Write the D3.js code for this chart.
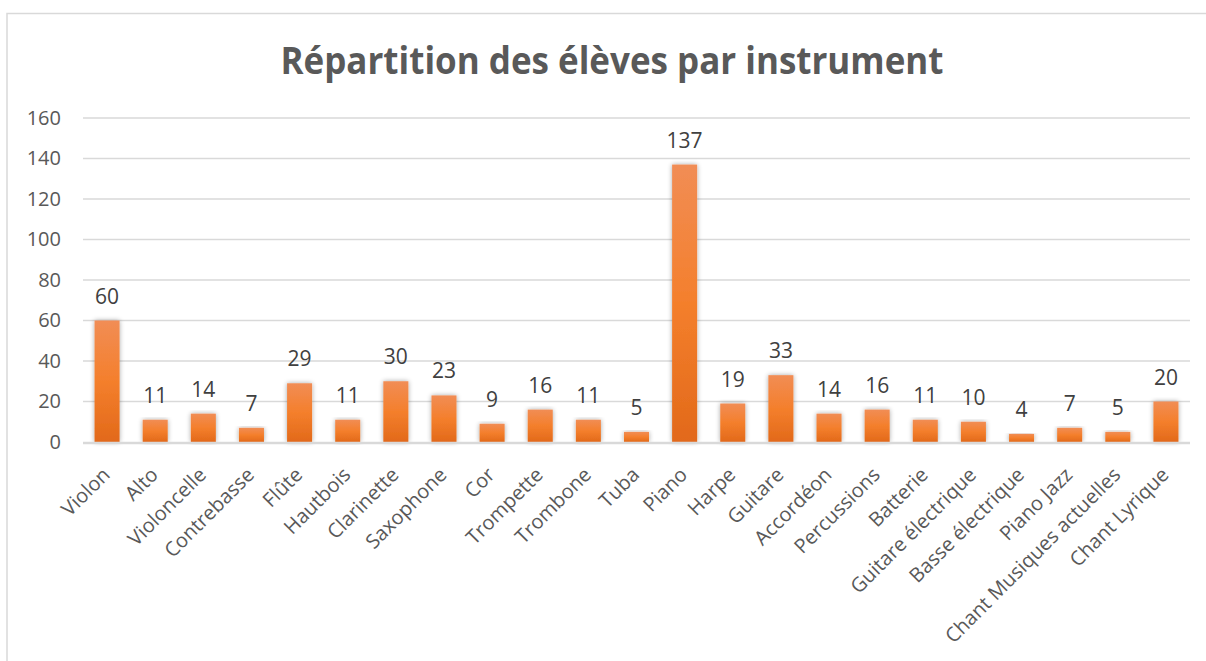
<!DOCTYPE html>
<html>
<head>
<meta charset="utf-8">
<script src="https://cdn.jsdelivr.net/npm/d3@7"></script>
<style>
 body { margin: 0; background: #fff; }
 text { font-family: "Open Sans", "Noto Sans", sans-serif; }
</style>
</head>
<body>
<script>
 // categories and values
 var instruments = ["Violon","Alto","Violoncelle","Contrebasse","Flûte","Hautbois","Clarinette","Saxophone","Cor","Trompette","Trombone","Tuba","Piano","Harpe","Guitare","Accordéon","Percussions","Batterie","Guitare électrique","Basse électrique","Piano Jazz","Chant Musiques actuelles","Chant Lyrique"];
 var eleves = [60,11,14,7,29,11,30,23,9,16,11,5,137,19,33,14,16,11,10,4,7,5,20];
 var yTicks = [0,20,40,60,80,100,120,140,160];
 var titre = "Répartition des élèves par instrument";

 var W = 1206, H = 661;
 var margin = {top: 118, right: 16, bottom: 219, left: 83};

 var svg = d3.select("body").append("svg")
	.attr("width", W)
	.attr("height", H);

 var defs = svg.append("defs");
 var grad = defs.append("linearGradient")
	.attr("id", "barGrad")
	.attr("x1", 0).attr("y1", 0).attr("x2", 0).attr("y2", 1);
 grad.append("stop").attr("offset", "0%").attr("stop-color", "#F18D55");
 grad.append("stop").attr("offset", "50%").attr("stop-color", "#F47F2C");
 grad.append("stop").attr("offset", "100%").attr("stop-color", "#E2691A");

 // soft shadow around the bars
 var shadow = defs.append("filter").attr("id", "ombre")
	.attr("x", "-40%").attr("y", "-10%").attr("width", "180%").attr("height", "120%");
 shadow.append("feGaussianBlur").attr("in", "SourceAlpha").attr("stdDeviation", 2.5).attr("result", "b");
 shadow.append("feComponentTransfer").attr("in", "b").attr("result", "b2")
	.append("feFuncA").attr("type", "linear").attr("slope", 0.35);
 var merge = shadow.append("feMerge");
 merge.append("feMergeNode").attr("in", "b2");
 merge.append("feMergeNode").attr("in", "SourceGraphic");

 // frame
 svg.append("rect")
	.attr("x", 7).attr("y", 13.5)
	.attr("width", 1220).attr("height", 700)
	.attr("fill", "none").attr("stroke", "#D9D9D9").attr("stroke-width", 1.5);

 var x = d3.scaleBand()
	.domain(instruments)
	.range([margin.left, 1190])
	.paddingInner(0.48).paddingOuter(0.24);

 var y = d3.scaleLinear()
	.domain([0, 160])
	.range([442, 118]);

 // title
 svg.append("text")
	.attr("x", 612).attr("y", 74)
	.attr("text-anchor", "middle")
	.attr("font-size", 37)
	.attr("font-weight", "bold")
	.attr("fill", "#595959")
	.attr("textLength", 663)
	.attr("lengthAdjust", "spacingAndGlyphs")
	.text(titre);

 // gridlines
 svg.append("g")
	.selectAll("line")
	.data(yTicks.filter(function(d){ return d > 0; }))
	.join("line")
	.attr("x1", margin.left).attr("x2", 1190)
	.attr("y1", function(d){ return y(d); })
	.attr("y2", function(d){ return y(d); })
	.attr("stroke", "#D9D9D9").attr("stroke-width", 1.3);

 // y axis labels
 var yAxis = d3.axisLeft(y).tickValues(yTicks).tickSize(0).tickPadding(22);
 var gy = svg.append("g")
	.attr("transform", "translate(" + margin.left + ",0)")
	.call(yAxis);
 gy.select(".domain").remove();
 gy.selectAll("text")
	.attr("font-size", 20)
	.attr("fill", "#595959")
	.attr("font-family", "\"Open Sans\", sans-serif");

 // bars
 svg.append("g")
	.selectAll("rect")
	.data(instruments)
	.join("rect")
	.attr("x", function(d){ return x(d); })
	.attr("width", x.bandwidth())
	.attr("y", function(d, i){ return y(eleves[i]); })
	.attr("height", function(d, i){ return y(0) - y(eleves[i]); })
	.attr("fill", "url(#barGrad)")
	.attr("filter", "url(#ombre)");

 // baseline
 svg.append("line")
	.attr("x1", margin.left).attr("x2", 1190)
	.attr("y1", 443).attr("y2", 443)
	.attr("stroke", "#D9D9D9").attr("stroke-width", 2.5);

 // data labels
 svg.append("g")
	.selectAll("text")
	.data(instruments)
	.join("text")
	.attr("x", function(d){ return x(d) + x.bandwidth() / 2; })
	.attr("y", function(d, i){ return y(eleves[i]) - 17; })
	.attr("text-anchor", "middle")
	.attr("font-size", 21)
	.attr("fill", "#404040")
	.text(function(d, i){ return eleves[i]; });

 // x axis labels
 var xAxis = d3.axisBottom(x).tickSize(0).tickPadding(0);
 var gx = svg.append("g")
	.attr("transform", "translate(0,443)")
	.call(xAxis);
 gx.select(".domain").remove();
 gx.selectAll("text")
	.attr("font-size", 20)
	.attr("fill", "#595959")
	.attr("font-family", "\"Open Sans\", sans-serif")
	.attr("text-anchor", "end")
	.attr("dy", 0)
	.attr("transform", "translate(4,33) rotate(-45)");
</script>
</body>
</html>
